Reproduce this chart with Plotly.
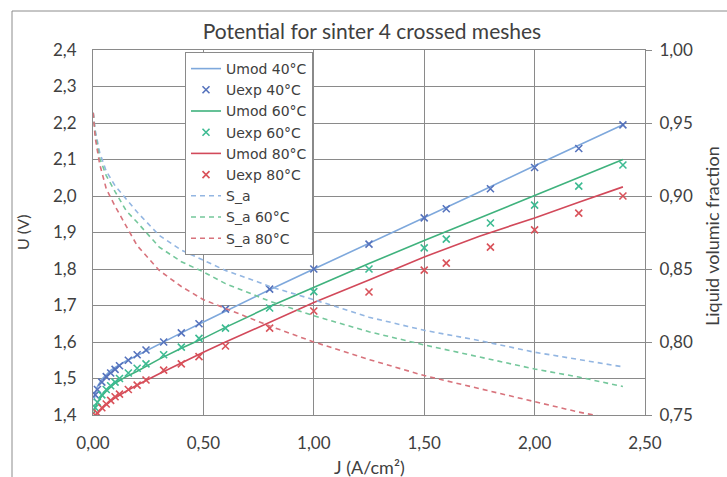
import plotly.graph_objects as go

# ---------------- data ----------------
J_mod = [0.005, 0.01, 0.02, 0.04, 0.06, 0.08, 0.10, 0.15, 0.20, 0.30, 0.40, 0.50,
         0.60, 0.80, 1.00, 1.25, 1.50, 1.75, 2.00, 2.20, 2.40]
U_mod_40 = [1.44, 1.46, 1.478, 1.498, 1.51, 1.522, 1.53, 1.548, 1.563, 1.595, 1.625, 1.655,
            1.685, 1.743, 1.80, 1.87, 1.94, 2.011, 2.083, 2.138, 2.195]
U_mod_60 = [1.405, 1.42, 1.435, 1.452, 1.465, 1.477, 1.487, 1.505, 1.52, 1.553, 1.583, 1.61,
            1.64, 1.697, 1.75, 1.815, 1.878, 1.94, 2.00, 2.05, 2.10]
U_mod_80 = [1.385, 1.395, 1.405, 1.418, 1.428, 1.438, 1.447, 1.465, 1.482, 1.513, 1.543, 1.572,
            1.60, 1.655, 1.708, 1.77, 1.833, 1.89, 1.94, 1.983, 2.025]

J_exp = [0.01, 0.02, 0.04, 0.06, 0.08, 0.10, 0.12, 0.16, 0.20, 0.24, 0.32, 0.40, 0.48,
         0.60, 0.80, 1.00, 1.25, 1.50, 1.60, 1.80, 2.00, 2.20, 2.40]
U_exp_40 = [1.455, 1.47, 1.49, 1.505, 1.515, 1.525, 1.535, 1.55, 1.565, 1.578, 1.60, 1.625, 1.65,
            1.69, 1.745, 1.80, 1.868, 1.94, 1.965, 2.02, 2.078, 2.13, 2.195]
U_exp_60 = [1.42, 1.435, 1.455, 1.47, 1.48, 1.49, 1.50, 1.515, 1.528, 1.54, 1.565, 1.586, 1.61,
            1.638, 1.693, 1.738, 1.80, 1.858, 1.882, 1.926, 1.975, 2.027, 2.085]
U_exp_80 = [1.40, 1.405, 1.42, 1.43, 1.44, 1.45, 1.457, 1.47, 1.482, 1.496, 1.523, 1.54, 1.56,
            1.589, 1.638, 1.685, 1.737, 1.797, 1.816, 1.86, 1.907, 1.953, 2.00]

J_sa = [0.001, 0.01, 0.03, 0.06, 0.10, 0.15, 0.20, 0.30, 0.40, 0.50, 0.60, 0.75, 0.80,
        1.00, 1.25, 1.50, 1.75, 2.00, 2.20, 2.40]
S_a_40 = [0.957, 0.945, 0.930, 0.917, 0.907, 0.898, 0.889, 0.873, 0.863, 0.856, 0.849, 0.841, 0.838,
          0.829, 0.817, 0.808, 0.801, 0.793, 0.788, 0.783]
S_a_60 = [0.957, 0.943, 0.926, 0.914, 0.903, 0.890, 0.882, 0.865, 0.855, 0.848, 0.840, 0.831, 0.828,
          0.818, 0.807, 0.798, 0.790, 0.7815, 0.776, 0.7695]
S_a_80 = [0.957, 0.940, 0.922, 0.905, 0.893, 0.879, 0.866, 0.849, 0.838, 0.829, 0.823, 0.814, 0.811,
          0.800, 0.788, 0.777, 0.768, 0.759, 0.752, 0.746]

# ---------------- styling ----------------
FONT = "Lato, 'Open Sans', sans-serif"
GRID = "#8a8a8a"
TXT = "#404040"

fig = go.Figure()

def line(x, y, name, color, dash=None, yaxis="y"):
    fig.add_trace(go.Scatter(x=x, y=y, name=name, mode="lines", yaxis=yaxis,
                             line=dict(color=color, width=1.6, dash=dash)))

def marks(x, y, name, color):
    fig.add_trace(go.Scatter(x=x, y=y, name=name, mode="markers",
                             marker=dict(symbol="x-thin", size=7, color=color,
                                         line=dict(width=1.6, color=color))))

line(J_mod, U_mod_40, "Umod 40°C", "#7ea8dc")
marks(J_exp, U_exp_40, "Uexp 40°C", "#5673bd")
line(J_mod, U_mod_60, "Umod 60°C", "#3fb27d")
marks(J_exp, U_exp_60, "Uexp 60°C", "#3dbb92")
line(J_mod, U_mod_80, "Umod 80°C", "#d2495a")
marks(J_exp, U_exp_80, "Uexp 80°C", "#d9525a")
line(J_sa, S_a_40, "S_a", "#93b6e2", dash="5px,4px", yaxis="y2")
line(J_sa, S_a_60, "S_a 60°C", "#74c79b", dash="5px,4px", yaxis="y2")
line(J_sa, S_a_80, "S_a 80°C", "#d8737c", dash="5px,4px", yaxis="y2")

PW = 552  # plot width in px
PH = 365  # plot height in px

fig.update_layout(
    width=727, height=477,
    margin=dict(l=93, r=82, t=50, b=62),
    paper_bgcolor="white", plot_bgcolor="white",
    separators=", ",
    font=dict(family=FONT, size=16, color=TXT),
    title=dict(text="Potential for sinter 4 crossed meshes", x=372 / 727, xanchor="center",
               y=1 - 32 / 477, yanchor="middle", font=dict(size=21, color=TXT)),
    showlegend=True,
    legend=dict(x=(185 - 93) / PW, y=(415 - 52) / PH, xanchor="left", yanchor="top",
                bgcolor="white", bordercolor=GRID, borderwidth=1,
                font=dict(family="'DejaVu Sans', sans-serif", size=14, color=TXT),
                tracegroupgap=0, itemwidth=30),
    xaxis=dict(range=[0, 2.5], dtick=0.5, tick0=0, tickformat=".2f",
               showgrid=True, gridcolor=GRID, gridwidth=1,
               showline=True, linecolor=GRID, linewidth=1, mirror=True,
               zeroline=False, ticks="", ticklabelstandoff=13,
               tickfont=dict(size=17, color=TXT)),
    yaxis=dict(range=[1.4, 2.4], dtick=0.1, tick0=1.4, tickformat=".1f",
               showgrid=True, gridcolor=GRID, gridwidth=1,
               showline=True, linecolor=GRID, linewidth=1, mirror=True,
               zeroline=False, ticks="", ticklabelstandoff=12,
               tickfont=dict(size=17, color=TXT)),
    yaxis2=dict(range=[0.75, 1.0], dtick=0.05, tick0=0.75, tickformat=".2f",
                overlaying="y", side="right", showgrid=False, zeroline=False,
                ticks="outside", ticklen=6, tickcolor=GRID, ticklabelstandoff=4,
                showline=False, tickfont=dict(size=17, color=TXT)),
    annotations=[
        dict(text="U (V)", xref="paper", yref="paper", x=(22 - 93) / PW, y=(415 - 233) / PH,
             textangle=-90, showarrow=False, xanchor="center", yanchor="middle",
             font=dict(size=16, color=TXT)),
        dict(text="J (A/cm²)", xref="paper", yref="paper", x=0.5, y=(415 - 467) / PH,
             showarrow=False, xanchor="center", yanchor="middle",
             font=dict(size=18, color=TXT)),
        dict(text="Liquid volumic fraction", xref="paper", yref="paper", x=(712 - 93) / PW,
             y=(415 - 236) / PH, textangle=-90, showarrow=False,
             xanchor="center", yanchor="middle", font=dict(size=18, color=TXT)),
    ],
    shapes=[
        dict(type="line", xref="paper", yref="paper", x0=(12 - 93) / PW, x1=(740 - 93) / PW,
             y0=(415 - 11) / PH, y1=(415 - 11) / PH, line=dict(color="#8c8c8c", width=1)),
        dict(type="line", xref="paper", yref="paper", x0=(12 - 93) / PW, x1=(12 - 93) / PW,
             y0=(415 - 11) / PH, y1=(415 - 490) / PH, line=dict(color="#8c8c8c", width=1)),
    ],
)

fig.write_html("out.html", config={"displayModeBar": False},
               post_script="document.body.style.margin='0';document.body.style.overflow='hidden';")
